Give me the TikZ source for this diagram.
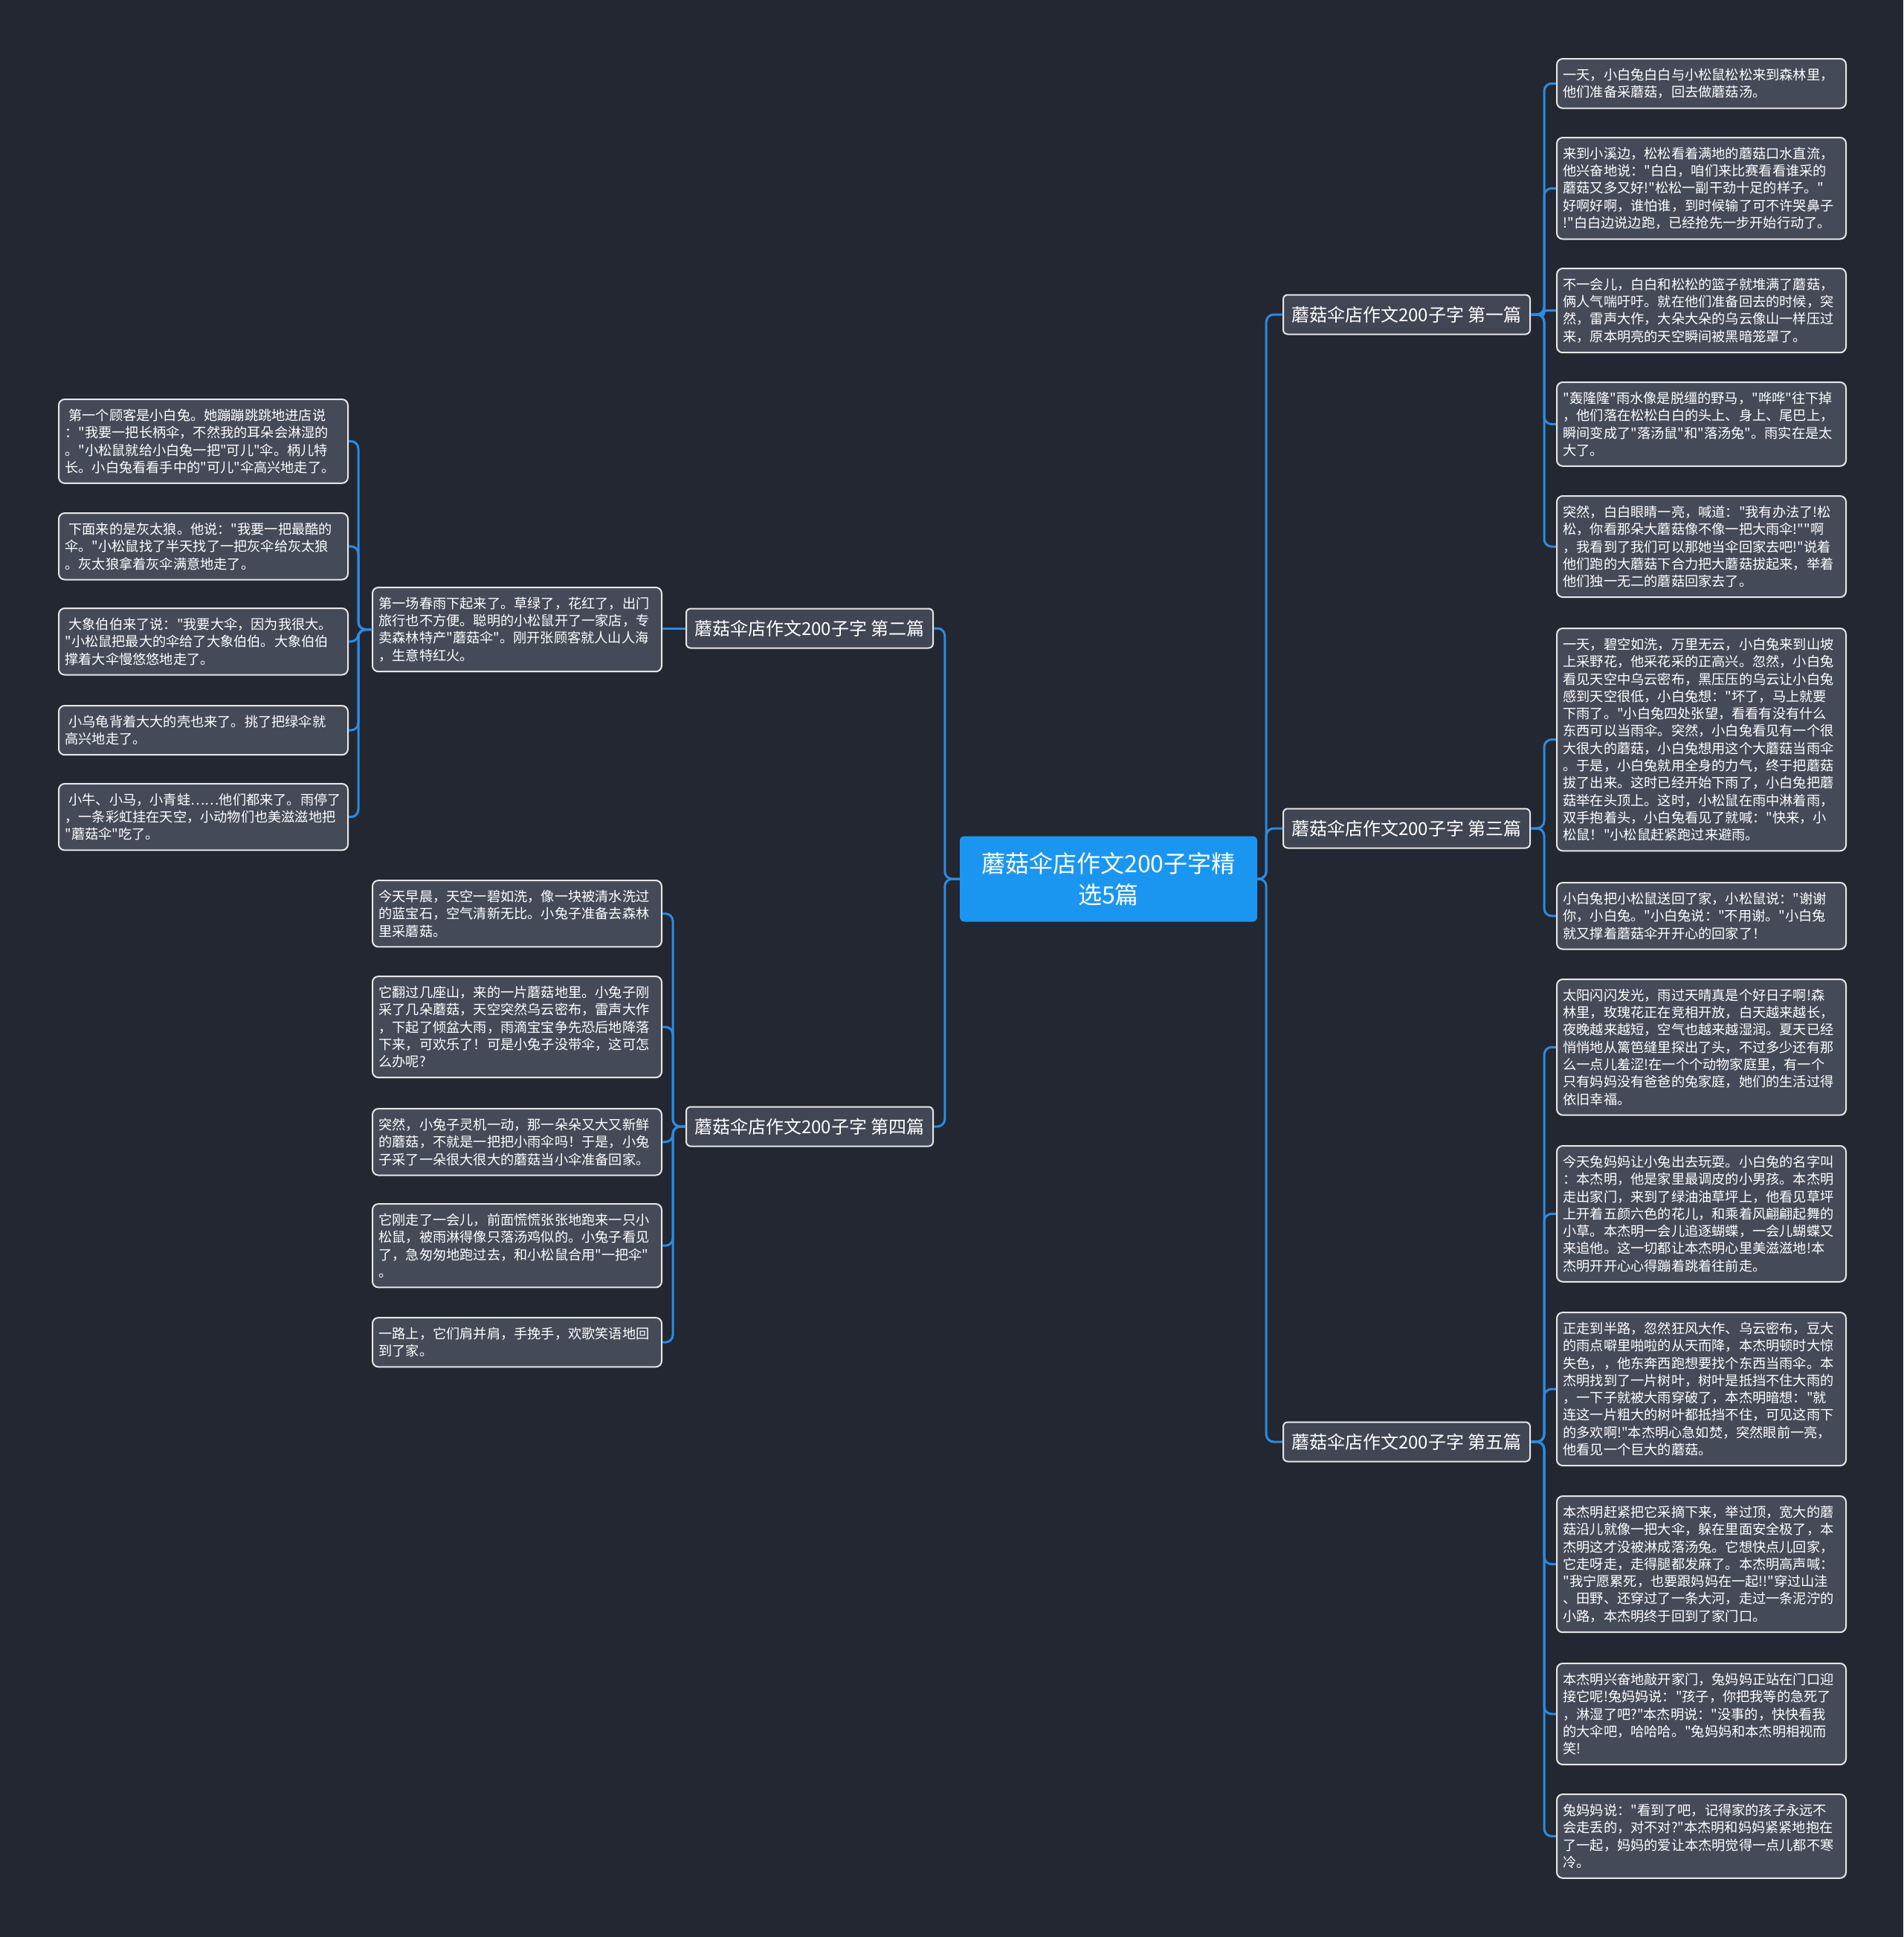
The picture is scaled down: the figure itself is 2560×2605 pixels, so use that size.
\documentclass[tikz,border=0pt]{standalone}
\usepackage{fontspec}
\newfontfamily\zhfont{Noto Sans CJK SC}
\definecolor{bgnavy}{HTML}{232731}
\definecolor{leaffill}{HTML}{454A59}
\definecolor{leafline}{HTML}{E6E6E6}
\definecolor{branchfill}{HTML}{414654}
\definecolor{ctrblue}{HTML}{1A96F0}
\definecolor{linkblue}{HTML}{2B8BE3}
\begin{document}
\begin{tikzpicture}[x=1pt, y=-1pt,
        every node/.style={text=white},
        leaf/.style={rectangle, draw=leafline, fill=leaffill, line width=2pt, rounded corners=8pt, anchor=north west, text width=372pt, inner xsep=8.5pt, inner ysep=13pt, align=left, font=\zhfont\fontsize{18.2pt}{23.3pt}\selectfont},
        branch/.style={rectangle, draw=leafline, fill=branchfill, line width=2pt, rounded corners=6pt, minimum width=332pt, minimum height=53pt, inner xsep=11pt, font=\zhfont\fontsize{24pt}{28pt}\selectfont},
        root/.style={rectangle, fill=ctrblue, rounded corners=6pt, minimum width=400pt, minimum height=115pt, align=center, font=\zhfont\fontsize{32pt}{41.5pt}\selectfont},
        link/.style={draw=linkblue, line width=3pt, rounded corners=10pt}
    ]
    \fill[bgnavy] (0,0) rectangle (2560,2605);
    \useasboundingbox (0,0) rectangle (2560,2605);

    % centre and branches
    \node[root] (ctr) at (1491, 1182) {蘑菇伞店作文200子字精\\选5篇};
    \node[branch] (b1) at (1892, 423)  {蘑菇伞店作文200子字 第一篇};
    \node[branch] (b3) at (1892, 1114) {蘑菇伞店作文200子字 第三篇};
    \node[branch] (b5) at (1892, 1939) {蘑菇伞店作文200子字 第五篇};
    \node[branch] (b2) at (1089, 845)  {蘑菇伞店作文200子字 第二篇};
    \node[branch] (b4) at (1089, 1515) {蘑菇伞店作文200子字 第四篇};

    % first
    \node[leaf] (r1) at (2093, 78)  {一天，小白兔白白与小松鼠松松来到森林里，\\他们准备采蘑菇，回去做蘑菇汤。};
    \node[leaf] (r2) at (2093, 184) {来到小溪边，松松看着满地的蘑菇口水直流，\\他兴奋地说："白白，咱们来比赛看看谁采的\\蘑菇又多又好!"松松一副干劲十足的样子。"\\好啊好啊，谁怕谁，到时候输了可不许哭鼻子\\!"白白边说边跑，已经抢先一步开始行动了。};
    \node[leaf] (r3) at (2093, 360) {不一会儿，白白和松松的篮子就堆满了蘑菇，\\俩人气喘吁吁。就在他们准备回去的时候，突\\然，雷声大作，大朵大朵的乌云像山一样压过\\来，原本明亮的天空瞬间被黑暗笼罩了。};
    \node[leaf] (r4) at (2093, 513) {"轰隆隆"雨水像是脱缰的野马，"哗哗"往下掉\\，他们落在松松白白的头上、身上、尾巴上，\\瞬间变成了"落汤鼠"和"落汤兔"。雨实在是太\\大了。};
    \node[leaf] (r5) at (2093, 666) {突然，白白眼睛一亮，喊道："我有办法了!松\\松，你看那朵大蘑菇像不像一把大雨伞!""啊\\，我看到了我们可以那她当伞回家去吧!"说着\\他们跑的大蘑菇下合力把大蘑菇拔起来，举着\\他们独一无二的蘑菇回家去了。};

    % third
    \node[leaf] (r6) at (2093, 844) {一天，碧空如洗，万里无云，小白兔来到山坡\\上采野花，他采花采的正高兴。忽然，小白兔\\看见天空中乌云密布，黑压压的乌云让小白兔\\感到天空很低，小白兔想："坏了，马上就要\\下雨了。"小白兔四处张望，看看有没有什么\\东西可以当雨伞。突然，小白兔看见有一个很\\大很大的蘑菇，小白兔想用这个大蘑菇当雨伞\\。于是，小白兔就用全身的力气，终于把蘑菇\\拔了出来。这时已经开始下雨了，小白兔把蘑\\菇举在头顶上。这时，小松鼠在雨中淋着雨，\\双手抱着头，小白兔看见了就喊："快来，小\\松鼠！"小松鼠赶紧跑过来避雨。};
    \node[leaf] (r7) at (2093, 1186) {小白兔把小松鼠送回了家，小松鼠说："谢谢\\你，小白兔。"小白兔说："不用谢。"小白兔\\就又撑着蘑菇伞开开心的回家了！};

    % fifth
    \node[leaf] (r8) at (2093, 1316) {太阳闪闪发光，雨过天晴真是个好日子啊!森\\林里，玫瑰花正在竞相开放，白天越来越长，\\夜晚越来越短，空气也越来越湿润。夏天已经\\悄悄地从篱笆缝里探出了头，不过多少还有那\\么一点儿羞涩!在一个个动物家庭里，有一个\\只有妈妈没有爸爸的兔家庭，她们的生活过得\\依旧幸福。};
    \node[leaf] (r9) at (2093, 1540) {今天兔妈妈让小兔出去玩耍。小白兔的名字叫\\：本杰明，他是家里最调皮的小男孩。本杰明\\走出家门，来到了绿油油草坪上，他看见草坪\\上开着五颜六色的花儿，和乘着风翩翩起舞的\\小草。本杰明一会儿追逐蝴蝶，一会儿蝴蝶又\\来追他。这一切都让本杰明心里美滋滋地!本\\杰明开开心心得蹦着跳着往前走。};
    \node[leaf] (r10) at (2093, 1764) {正走到半路，忽然狂风大作、乌云密布，豆大\\的雨点噼里啪啦的从天而降，本杰明顿时大惊\\失色，，他东奔西跑想要找个东西当雨伞。本\\杰明找到了一片树叶，树叶是抵挡不住大雨的\\，一下子就被大雨穿破了，本杰明暗想："就\\连这一片粗大的树叶都抵挡不住，可见这雨下\\的多欢啊!"本杰明心急如焚，突然眼前一亮，\\他看见一个巨大的蘑菇。};
    \node[leaf] (r11) at (2093, 2011) {本杰明赶紧把它采摘下来，举过顶，宽大的蘑\\菇沿儿就像一把大伞，躲在里面安全极了，本\\杰明这才没被淋成落汤兔。它想快点儿回家，\\它走呀走，走得腿都发麻了。本杰明高声喊：\\"我宁愿累死，也要跟妈妈在一起!!"穿过山洼\\、田野、还穿过了一条大河，走过一条泥泞的\\小路，本杰明终于回到了家门口。};
    \node[leaf] (r12) at (2093, 2236) {本杰明兴奋地敲开家门，兔妈妈正站在门口迎\\接它呢!兔妈妈说："孩子，你把我等的急死了\\，淋湿了吧?"本杰明说："没事的，快快看我\\的大伞吧，哈哈哈。"兔妈妈和本杰明相视而\\笑!};
    \node[leaf] (r13) at (2093, 2412) {兔妈妈说："看到了吧，记得家的孩子永远不\\会走丢的，对不对?"本杰明和妈妈紧紧地抱在\\了一起，妈妈的爱让本杰明觉得一点儿都不寒\\冷。};

    % second
    \node[leaf] (m1) at (500, 789) {第一场春雨下起来了。草绿了，花红了，出门\\旅行也不方便。聪明的小松鼠开了一家店，专\\卖森林特产"蘑菇伞"。刚开张顾客就人山人海\\，生意特红火。};
    \node[leaf] (l1) at (78, 536) {\hspace*{5pt}第一个顾客是小白兔。她蹦蹦跳跳地进店说\\："我要一把长柄伞，不然我的耳朵会淋湿的\\。"小松鼠就给小白兔一把"可儿"伞。柄儿特\\长。小白兔看看手中的"可儿"伞高兴地走了。};
    \node[leaf] (l2) at (78, 689) {\hspace*{5pt}下面来的是灰太狼。他说："我要一把最酷的\\伞。"小松鼠找了半天找了一把灰伞给灰太狼\\。灰太狼拿着灰伞满意地走了。};
    \node[leaf] (l3) at (78, 817) {\hspace*{5pt}大象伯伯来了说："我要大伞，因为我很大。\\"小松鼠把最大的伞给了大象伯伯。大象伯伯\\撑着大伞慢悠悠地走了。};
    \node[leaf] (l4) at (78, 948) {\hspace*{5pt}小乌龟背着大大的壳也来了。挑了把绿伞就\\高兴地走了。};
    \node[leaf] (l5) at (78, 1053) {\hspace*{5pt}小牛、小马，小青蛙……他们都来了。雨停了\\，一条彩虹挂在天空，小动物们也美滋滋地把\\"蘑菇伞"吃了。};

    % fourth
    \node[leaf] (m2) at (500, 1183) {今天早晨，天空一碧如洗，像一块被清水洗过\\的蓝宝石，空气清新无比。小兔子准备去森林\\里采蘑菇。};
    \node[leaf] (m3) at (500, 1312) {它翻过几座山，来的一片蘑菇地里。小兔子刚\\采了几朵蘑菇，天空突然乌云密布，雷声大作\\，下起了倾盆大雨，雨滴宝宝争先恐后地降落\\下来，可欢乐了！可是小兔子没带伞，这可怎\\么办呢?};
    \node[leaf] (m4) at (500, 1490) {突然，小兔子灵机一动，那一朵朵又大又新鲜\\的蘑菇，不就是一把把小雨伞吗！于是，小兔\\子采了一朵很大很大的蘑菇当小伞准备回家。};
    \node[leaf] (m5) at (500, 1618) {它刚走了一会儿，前面慌慌张张地跑来一只小\\松鼠，被雨淋得像只落汤鸡似的。小兔子看见\\了，急匆匆地跑过去，和小松鼠合用"一把伞"\\。};
    \node[leaf] (m6) at (500, 1771) {一路上，它们肩并肩，手挽手，欢歌笑语地回\\到了家。};

    % connectors
    \foreach \b in {b1,b3,b5}
        \draw[link] (ctr.east) -- ++(12,0) |- (\b.west);
    \foreach \b in {b2,b4}
        \draw[link] (ctr.west) -- ++(-20,0) |- (\b.east);
    \foreach \r in {r1,r2,r4,r5}
        \draw[link] (b1.east) -- ++(18,0) |- (\r.west);
    \draw[link, rounded corners=3pt] (b1.east) -- ++(18,0) |- (r3.west);
    \foreach \r in {r6,r7}
        \draw[link] (b3.east) -- ++(18,0) |- (\r.west);
    \foreach \r in {r8,r9,r10,r11,r12,r13}
        \draw[link] (b5.east) -- ++(18,0) |- (\r.west);
    \draw[link] (b2.west) -- (b2.west -| m1.east);
    \foreach \l in {l1,l2,l3,l4,l5}
        \draw[link] (m1.west) -- ++(-18,0) |- (\l.east);
    \foreach \m in {m2,m3,m4,m5,m6}
        \draw[link] (b4.west) -- ++(-17,0) |- (\m.east);
\end{tikzpicture}
\end{document}
